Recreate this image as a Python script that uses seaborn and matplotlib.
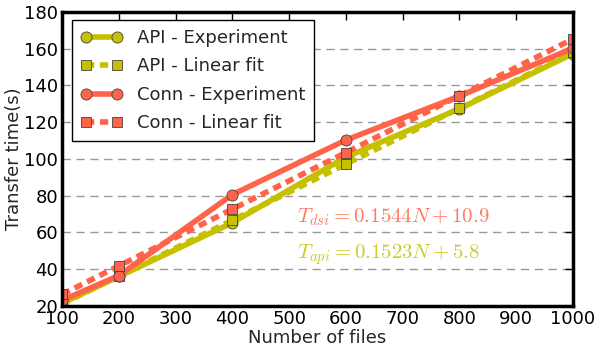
import matplotlib
matplotlib.use('Agg')
import matplotlib.pyplot as plt
import pandas as pd
import seaborn as sns

# number of files transferred
n_files = [100, 200, 400, 600, 800, 1000]

# transfer time in seconds
api_exp = [21.5, 36.0, 65.3, 101.0, 127.3, 157.3]
api_fit = [21.0, 36.3, 66.7, 97.2, 127.6, 158.1]
conn_exp = [23.0, 36.5, 80.6, 110.3, 134.2, 160.3]
conn_fit = [26.3, 41.8, 72.7, 103.5, 134.4, 165.3]

api_color = '#c5c000'
conn_color = '#ff634a'

sns.set_theme(style='white')
plt.rcParams['font.family'] = ['DejaVu Sans']
plt.rcParams['mathtext.fontset'] = 'cm'

fig, ax = plt.subplots(figsize=(5.98, 3.54), dpi=100)
fig.subplots_adjust(left=0.104, right=0.958, top=0.966, bottom=0.136)

df = pd.DataFrame({'N': n_files, 'api_exp': api_exp, 'api_fit': api_fit,
                   'conn_exp': conn_exp, 'conn_fit': conn_fit})

series = [
    ('api_exp', 'API - Experiment', api_color, '-', 'o', 8),
    ('api_fit', 'API - Linear fit', api_color, (0, (1.5, 1)), 's', 6.5),
    ('conn_exp', 'Conn - Experiment', conn_color, '-', 'o', 8),
    ('conn_fit', 'Conn - Linear fit', conn_color, (0, (1.5, 1)), 's', 6.5),
]
for col, label, color, ls, mk, ms in series:
    sns.lineplot(data=df, x='N', y=col, ax=ax, color=color, label=label,
                 linewidth=4, linestyle=ls, marker=mk, markersize=ms,
                 markeredgecolor='#444444', markeredgewidth=0.6)

# fitted equations
ax.text(514, 68.4, r'$T_{dsi} = 0.1544N + 10.9$', color=conn_color,
        fontsize=15, va='center', alpha=0.85)
ax.text(514, 47.8, r'$T_{api} = 0.1523N + 5.8$', color=api_color,
        fontsize=15, va='center', alpha=0.85)

ax.set_xlim(100, 1000)
ax.set_ylim(20, 180)
ax.set_xticks(range(100, 1001, 100))
ax.set_yticks(range(20, 181, 20))
ax.yaxis.grid(True, linestyle=(0, (6, 4)), color='#999999', linewidth=1)
ax.xaxis.grid(False)
ax.tick_params(direction='in', top=True, right=True, length=6, width=1,
               labelsize=13, pad=3, colors='black')
for s in ax.spines.values():
    s.set_linewidth(2.5)
    s.set_color('black')

ax.set_xlabel('Number of files', fontsize=13, labelpad=1)
ax.set_ylabel('Transfer time(s)', fontsize=13, labelpad=1)

leg = ax.legend(loc='upper left', bbox_to_anchor=(0.019, 0.973),
                borderaxespad=0, fontsize=13, numpoints=2, handlelength=2.3,
                labelspacing=0.58, fancybox=False, framealpha=1,
                edgecolor='black', borderpad=0.5)
leg.get_frame().set_linewidth(1)

fig.savefig('out.png', dpi=100)
